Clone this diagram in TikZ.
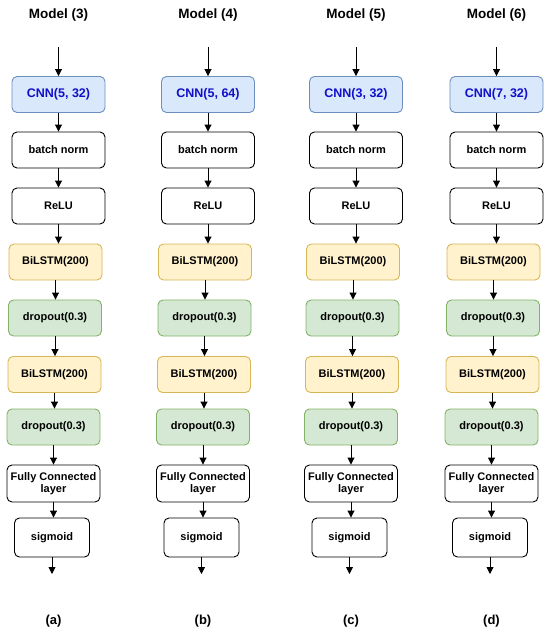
\documentclass[tikz,border=0pt]{standalone}
\usepackage{fontspec}
\setmainfont{Liberation Sans}
\usetikzlibrary{arrows.meta}
\definecolor{cnnfill}{HTML}{DAE8FC}
\definecolor{cnnline}{HTML}{6C8EBF}
\definecolor{cnntext}{HTML}{1010C8}
\definecolor{lstmfill}{HTML}{FFF2CC}
\definecolor{lstmline}{HTML}{D6B656}
\definecolor{dropfill}{HTML}{D5E8D4}
\definecolor{dropline}{HTML}{82B366}
\tikzset{
  layer/.style={draw, rounded corners=5pt, line width=0.9pt, minimum width=93pt, minimum height=36pt,
    align=center, inner sep=1pt, font=\fontsize{11}{12.5}\selectfont\bfseries},
  cnn/.style={layer, fill=cnnfill, draw=cnnline, text=cnntext, font=\fontsize{12.5}{14}\selectfont\bfseries},
  lstm/.style={layer, fill=lstmfill, draw=lstmline},
  drop/.style={layer, fill=dropfill, draw=dropline},
  plain/.style={layer, fill=white},
  flow/.style={-{Triangle[length=7pt,width=7pt]}, line width=0.9pt},
  title/.style={font=\fontsize{13.5}{16}\selectfont\bfseries},
  sublabel/.style={font=\fontsize{13}{15}\selectfont\bfseries},
}
\begin{document}
\begin{tikzpicture}[x=1pt,y=-1pt]
\useasboundingbox (0,0) rectangle (550,632);
\foreach \n/\x/\m/\cnn/\lab in {a/58.5/3/{CNN(5, 32)}/a, b/208/4/{CNN(5, 64)}/b, c/356/5/{CNN(3, 32)}/c, d/496.5/6/{CNN(7, 32)}/d}{
  \node[title] (\n t) at (\x,15) {Model (\m)};
  \coordinate (\n in) at (\x,47);
  \node[cnn]   (\n0) at (\x,94.5) {\cnn};
  \node[plain] (\n1) at (\x,150) {batch norm};
  \node[plain] (\n2) at (\x,206) {ReLU};
  \node[lstm]  (\n3) at (\x-3,262) {BiLSTM(200)};
  \node[drop]  (\n4) at (\x-3.5,318) {dropout(0.3)};
  \node[lstm]  (\n5) at (\x-4,374.5) {BiLSTM(200)};
  \node[drop]  (\n6) at (\x-5,427) {dropout(0.3)};
  \node[plain, minimum height=37pt] (\n7) at (\x-5,483.5) {Fully Connected\\layer};
  \node[plain, minimum width=75pt, minimum height=39pt] (\n8) at (\x-6.5,537.5) {sigmoid};
  \coordinate (\n out) at (\x-6.5,574);
  \node[sublabel] (\n l) at (\x-5,621) {(\lab)};
  \draw[flow] (\n in) -- (\n0);
  \draw[flow] (\n0) -- (\n0 |- \n1.north);
  \draw[flow] (\n1) -- (\n1 |- \n2.north);
  \draw[flow] (\n2) -- (\n2 |- \n3.north);
  \draw[flow] (\n3) -- (\n3 |- \n4.north);
  \draw[flow] (\n4) -- (\n4 |- \n5.north);
  \draw[flow] (\n5) -- (\n5 |- \n6.north);
  \draw[flow] (\n6) -- (\n6 |- \n7.north);
  \draw[flow] (\n7) -- (\n7 |- \n8.north);
  \draw[flow] (\n8) -- (\n out);
}
\end{tikzpicture}
\end{document}
